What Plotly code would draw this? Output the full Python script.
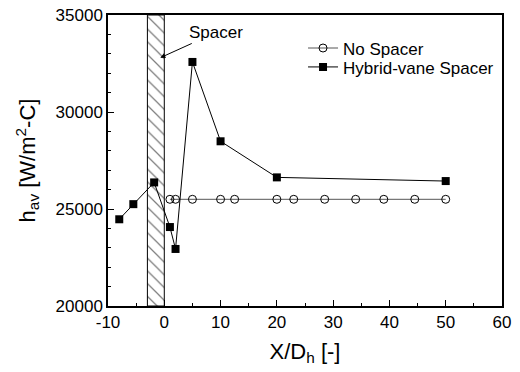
import plotly.graph_objects as go

# Data
no_spacer_x = [1, 2, 5, 10, 12.5, 20, 23, 28.5, 34, 39, 44.5, 50]
no_spacer_y = [25500] * 12
hybrid_x = [-8, -5.5, -1.8, 1, 2, 5, 10, 20, 50]
hybrid_y = [24470, 25250, 26370, 24070, 22940, 32580, 28490, 26630, 26440]
spacer_start = -3
spacer_end = 0
x_ticks = [-10, 0, 10, 20, 30, 40, 50, 60]
x_ticklabels = ["-10", "0", "10", "20", "30", "40", "50", "60"]
y_ticks = [20000, 25000, 30000, 35000]
y_ticklabels = ["20000", "25000", "30000", "35000"]

FONT = "Liberation Sans, Arial, sans-serif"

fig = go.Figure()

# Hatched spacer region
fig.add_trace(go.Scatter(
    x=[spacer_start, spacer_end, spacer_end, spacer_start, spacer_start],
    y=[20000, 20000, 35000, 35000, 20000],
    mode="lines", fill="toself", fillcolor="white",
    fillpattern=dict(shape="\\", size=9, solidity=0.14, fgcolor="black", bgcolor="white"),
    line=dict(color="black", width=1),
    showlegend=False, hoverinfo="skip",
))

fig.add_trace(go.Scatter(
    x=no_spacer_x, y=no_spacer_y, mode="lines+markers", name="No Spacer",
    line=dict(color="#555555", width=1),
    marker=dict(symbol="circle-open", size=8, color="black", line=dict(width=1)),
    legend="legend",
))
fig.add_trace(go.Scatter(
    x=hybrid_x, y=hybrid_y, mode="lines+markers", name="Hybrid-vane Spacer",
    line=dict(color="black", width=1),
    marker=dict(symbol="square", size=8, color="black"),
    legend="legend2",
))

fig.add_annotation(
    x=-0.7, y=32800, xref="x", yref="y",
    ax=9.2, ay=34100, axref="x", ayref="y",
    text="Spacer", showarrow=True, arrowhead=2, arrowsize=1, arrowwidth=1,
    arrowcolor="black", font=dict(family=FONT, size=17, color="black"),
)

leg_common = dict(xanchor="left", yanchor="middle", bgcolor="rgba(0,0,0,0)",
                  font=dict(size=17), itemwidth=30)
fig.update_layout(
    width=520, height=372,
    margin=dict(l=108, r=18, t=15, b=66),
    plot_bgcolor="white", paper_bgcolor="white",
    font=dict(family=FONT, size=17, color="black"),
    legend=dict(x=0.495, y=0.885, **leg_common),
    legend2=dict(x=0.495, y=0.82, **leg_common),
)
fig.update_xaxes(
    range=[-10, 60], tickvals=x_ticks, ticktext=x_ticklabels,
    ticks="inside", ticklen=6, tickwidth=1, tickcolor="black",
    minor=dict(ticks="inside", ticklen=3, dtick=5, tick0=0, tickcolor="black"),
    showline=True, linecolor="black", linewidth=1.5, mirror=True,
    showgrid=False, zeroline=False, automargin=False,
    title=dict(text="X/D<sub>h</sub> [-]", font=dict(size=22), standoff=12),
)
fig.update_yaxes(
    range=[20000, 35000], tickvals=y_ticks, ticktext=y_ticklabels,
    ticks="inside", ticklen=6, tickwidth=1, tickcolor="black",
    minor=dict(ticks="inside", ticklen=3, dtick=1000, tickcolor="black"),
    showline=True, linecolor="black", linewidth=1.5, mirror=True,
    showgrid=False, zeroline=False, automargin=False,
    title=dict(text="h<sub>av</sub> [W/m<sup>2</sup>-C]", font=dict(size=22), standoff=14),
)

fig.write_html("out.html", config={"displayModeBar": False},
               post_script="document.body.style.margin='0px';")
